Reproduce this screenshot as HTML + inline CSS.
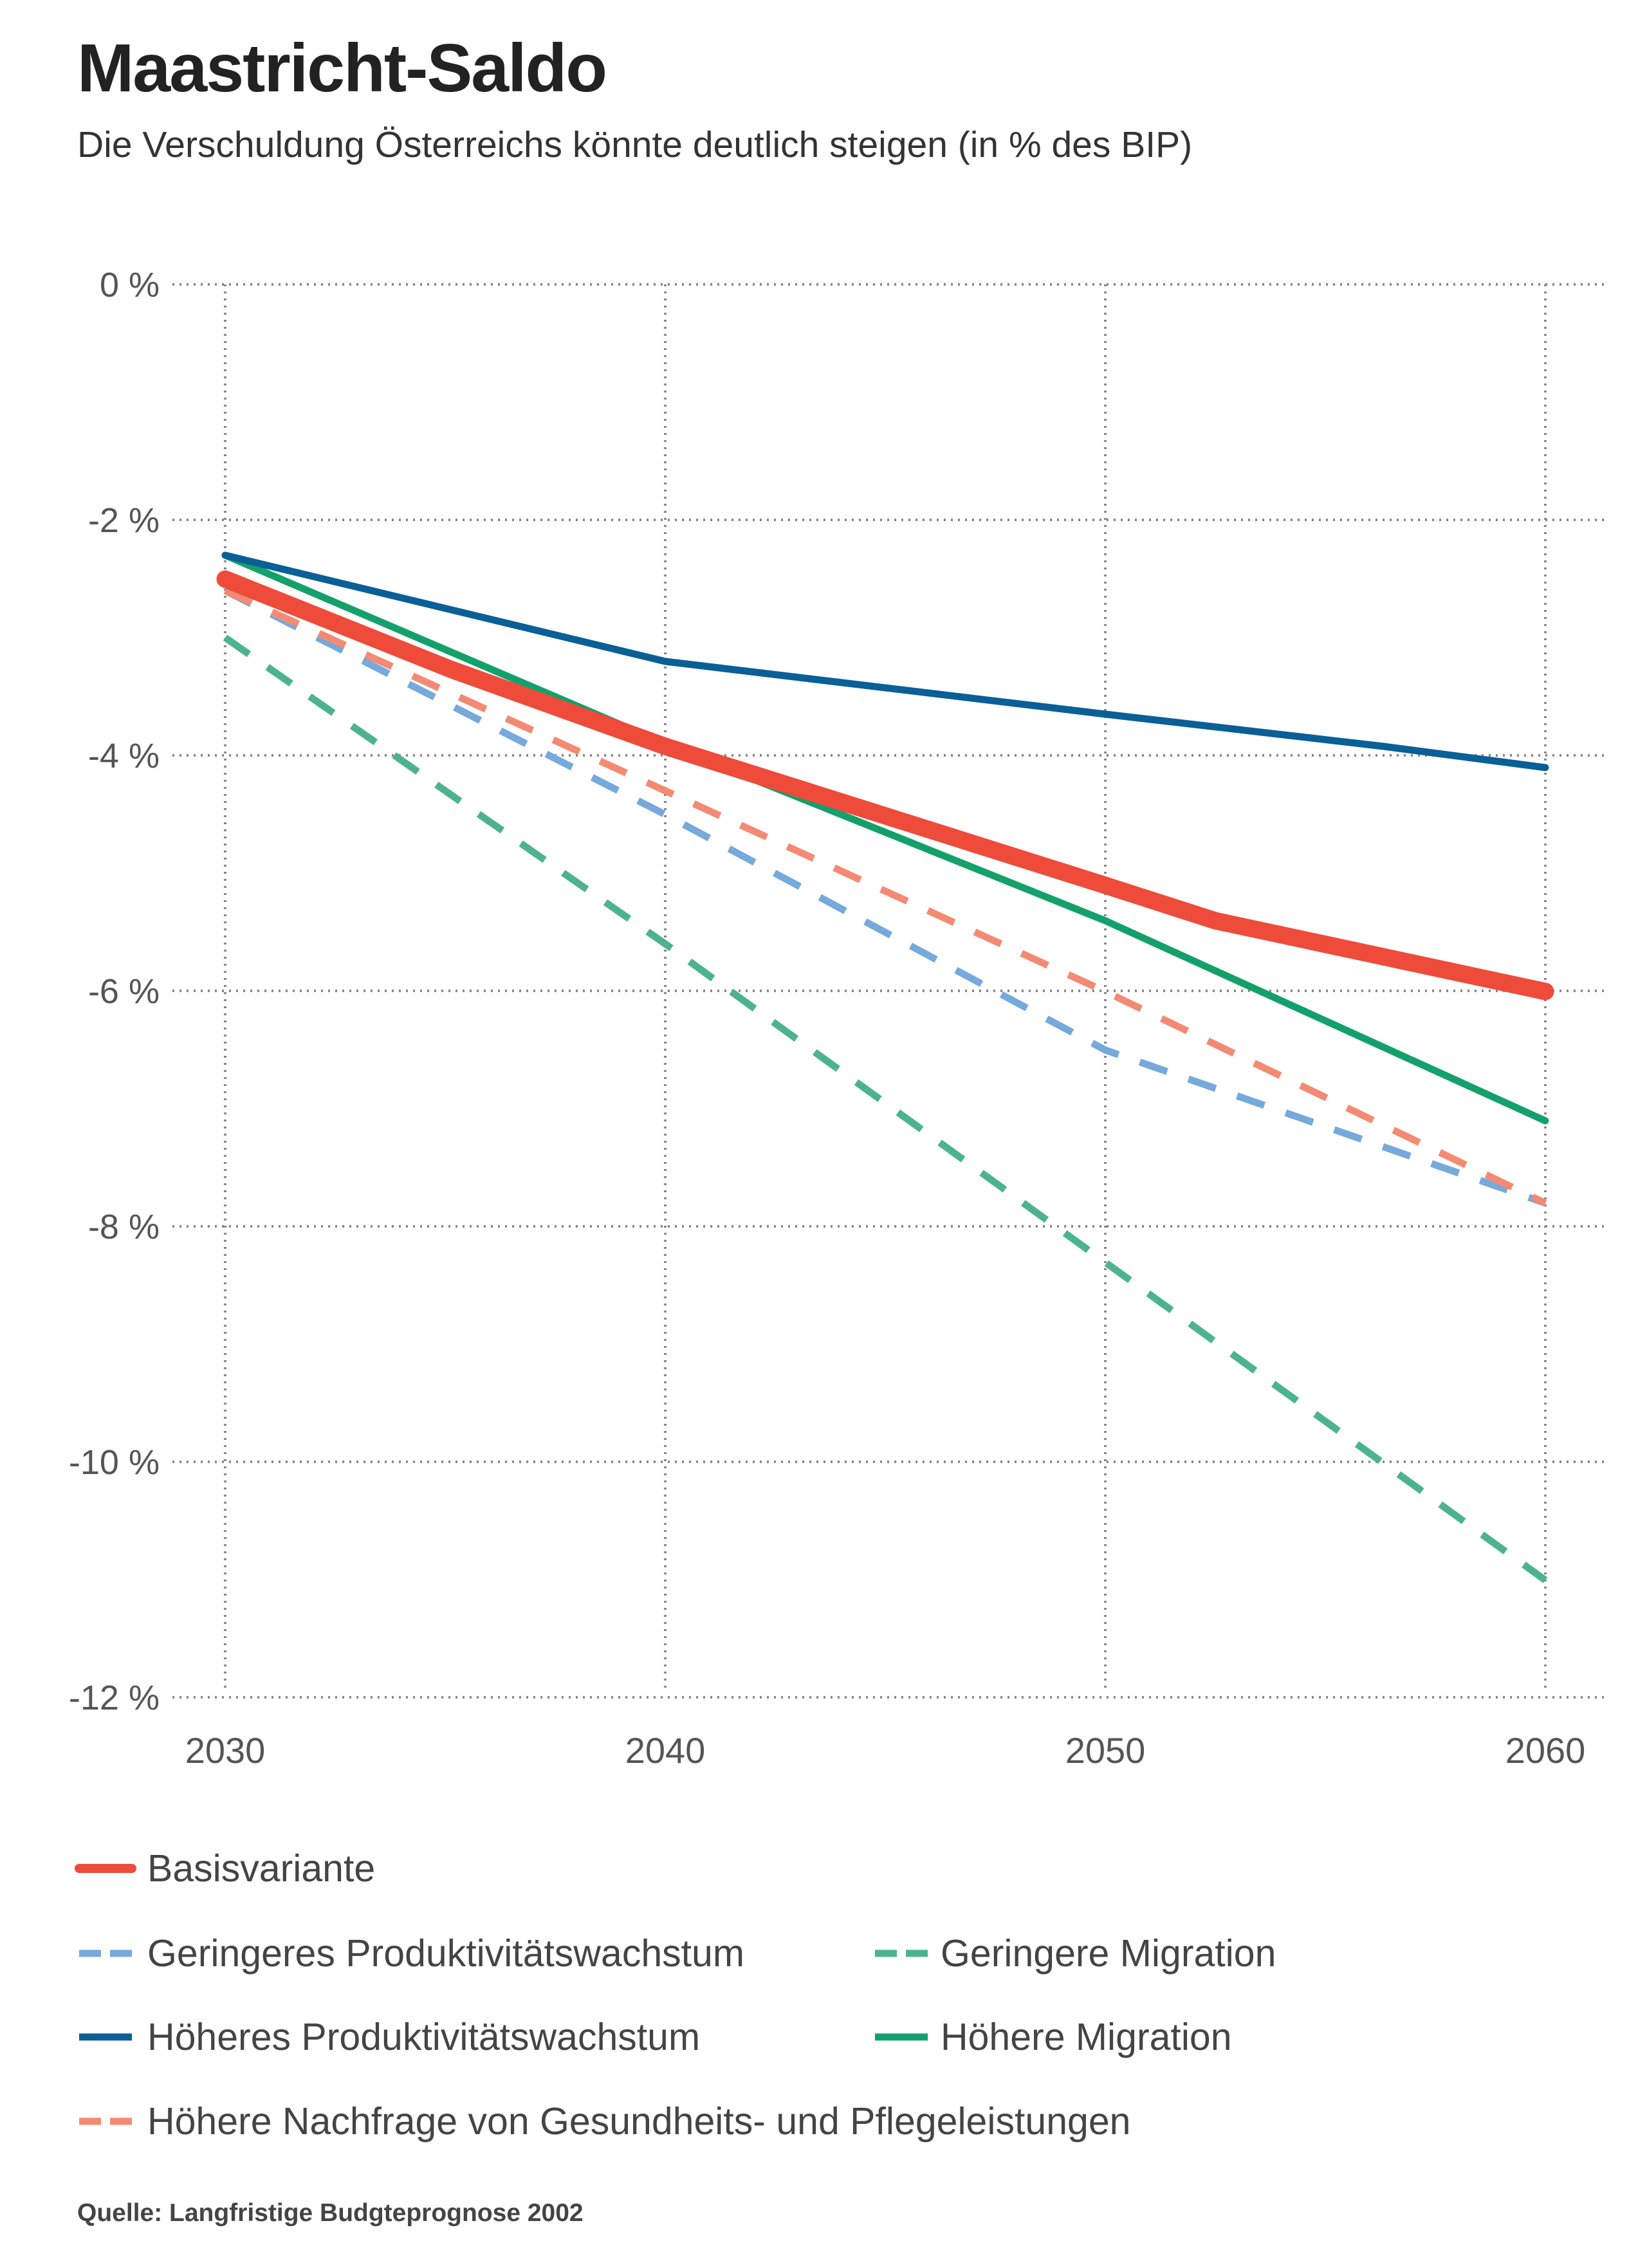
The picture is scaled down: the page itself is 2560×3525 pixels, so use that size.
<!DOCTYPE html>
<html><head><meta charset="utf-8"><style>
html,body{margin:0;padding:0;background:#fff;}
body{width:2560px;height:3520px;overflow:hidden;font-family:"Liberation Sans",sans-serif;}
</style></head><body>
<svg width="2560" height="3520" xmlns="http://www.w3.org/2000/svg" font-family="Liberation Sans, sans-serif">
<text x="120" y="142" font-size="106" font-weight="bold" fill="#222" letter-spacing="-2">Maastricht-Saldo</text>
<text x="120" y="244" font-size="57" fill="#333">Die Verschuldung Österreichs könnte deutlich steigen (in % des BIP)</text>
<g stroke="#888" stroke-width="4" stroke-dasharray="3 8">
<line x1="268" y1="442" x2="2500" y2="442"/>
<line x1="268" y1="808" x2="2500" y2="808"/>
<line x1="268" y1="1174" x2="2500" y2="1174"/>
<line x1="268" y1="1540" x2="2500" y2="1540"/>
<line x1="268" y1="1906" x2="2500" y2="1906"/>
<line x1="268" y1="2272" x2="2500" y2="2272"/>
<line x1="268" y1="2638" x2="2500" y2="2638"/>
<line x1="350" y1="442" x2="350" y2="2630"/>
<line x1="1034" y1="442" x2="1034" y2="2630"/>
<line x1="1718" y1="442" x2="1718" y2="2630"/>
<line x1="2402" y1="442" x2="2402" y2="2630"/>
</g>
<g font-size="54" fill="#555" text-anchor="end">
<text x="248" y="461">0 %</text>
<text x="248" y="827">-2 %</text>
<text x="248" y="1193">-4 %</text>
<text x="248" y="1559">-6 %</text>
<text x="248" y="1925">-8 %</text>
<text x="248" y="2291">-10 %</text>
<text x="248" y="2657">-12 %</text>
</g>
<g font-size="56" fill="#555" text-anchor="middle">
<text x="350" y="2740">2030</text>
<text x="1034" y="2740">2040</text>
<text x="1718" y="2740">2050</text>
<text x="2402" y="2740">2060</text>
</g>
<g fill="none" stroke-linecap="round" stroke-linejoin="round">
<polyline points="350,991 1034,1467 1718,1962 2402,2456" stroke="#4db38e" stroke-width="11" stroke-dasharray="45 35" stroke-linecap="butt"/>
<polyline points="350,918 1034,1266 1718,1632 2402,1870" stroke="#76a9dc" stroke-width="11" stroke-dasharray="45 35" stroke-linecap="butt"/>
<polyline points="350,918 1034,1229 1718,1541 2402,1870" stroke="#f38b74" stroke-width="11" stroke-dasharray="45 35" stroke-linecap="butt"/>
<polyline points="350,863 1034,1156 1718,1431 2402,1742" stroke="#14a06a" stroke-width="11"/>
<polyline points="350,863 1034,1028 1718,1110 2150,1160 2402,1193" stroke="#0a5f96" stroke-width="11"/>
<polyline points="350,900 700,1040 1034,1160 1718,1376 1889,1431 2402,1541" stroke="#ee4b3b" stroke-width="27"/>
</g>
<g stroke-width="11">
<line x1="123" y1="2904" x2="205" y2="2904" stroke="#ee4b3b" stroke-width="14" stroke-linecap="round"/>
<line x1="123" y1="3036" x2="205" y2="3036" stroke="#76a9dc" stroke-dasharray="34 14"/>
<line x1="1360" y1="3036" x2="1442" y2="3036" stroke="#4db38e" stroke-dasharray="34 14"/>
<line x1="123" y1="3166" x2="205" y2="3166" stroke="#0a5f96"/>
<line x1="1360" y1="3166" x2="1442" y2="3166" stroke="#14a06a"/>
<line x1="123" y1="3297" x2="205" y2="3297" stroke="#f38b74" stroke-dasharray="34 14"/>
</g>
<g font-size="59" fill="#444">
<text x="229" y="2924">Basisvariante</text>
<text x="229" y="3056">Geringeres Produktivitätswachstum</text>
<text x="1462" y="3056">Geringere Migration</text>
<text x="229" y="3186">Höheres Produktivitätswachstum</text>
<text x="1462" y="3186">Höhere Migration</text>
<text x="229" y="3317">Höhere Nachfrage von Gesundheits- und Pflegeleistungen</text>
</g>
<text x="120" y="3452" font-size="39" font-weight="bold" fill="#444">Quelle: Langfristige Budgteprognose 2002</text>
</svg>
</body></html>
